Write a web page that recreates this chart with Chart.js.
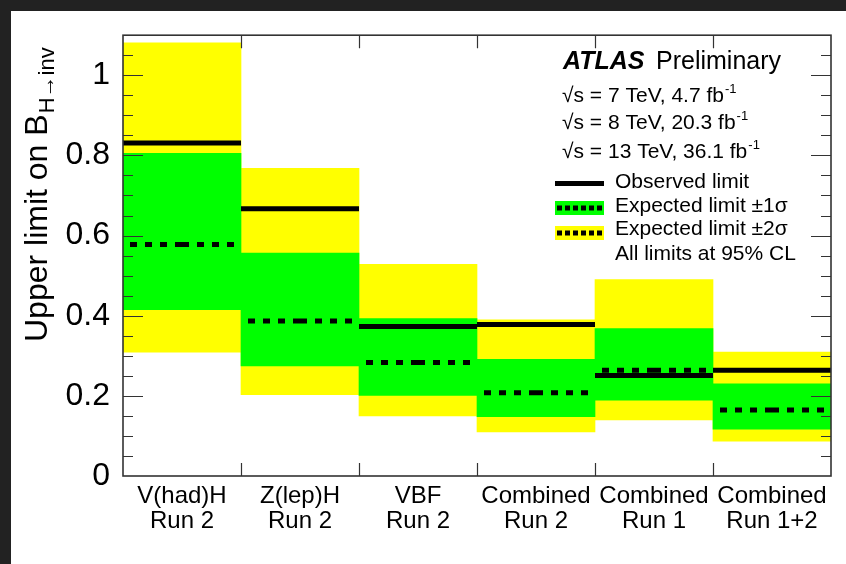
<!DOCTYPE html>
<html>
<head>
<meta charset="utf-8">
<script src="https://cdn.jsdelivr.net/npm/chart.js@4.4.1/dist/chart.umd.min.js"></script>
<style>
  html, body { margin: 0; padding: 0; background: #222; width: 846px; height: 564px; overflow: hidden; }
  #sheet { position: absolute; left: 11px; top: 11px; width: 835px; height: 553px; background: #fff; }
  canvas { display: block; }
</style>
</head>
<body>
<div id="sheet"><canvas id="limits" width="835" height="553"></canvas></div>
<script>
// channels, one bin each
const categories = [
    ['V(had)H', 'Run 2'],
    ['Z(lep)H', 'Run 2'],
    ['VBF', 'Run 2'],
    ['Combined', 'Run 2'],
    ['Combined', 'Run 1'],
    ['Combined', 'Run 1+2']
];

// upper limits on B(H -> inv) at 95% CL
const observed     = [0.831, 0.667, 0.373, 0.378, 0.251, 0.264];
const expected     = [0.578, 0.387, 0.283, 0.208, 0.264, 0.165];
const oneSigmaLow  = [0.415, 0.275, 0.201, 0.148, 0.189, 0.117];
const oneSigmaHigh = [0.805, 0.556, 0.393, 0.291, 0.368, 0.230];
const twoSigmaLow  = [0.309, 0.203, 0.150, 0.110, 0.140, 0.087];
const twoSigmaHigh = [1.081, 0.768, 0.528, 0.390, 0.490, 0.309];

const yTicks = [0, 0.2, 0.4, 0.6, 0.8, 1];
const energyLines = [
    ['7 TeV, 4.7 fb'],
    ['8 TeV, 20.3 fb'],
    ['13 TeV, 36.1 fb']
];
const legendLabels = ['Observed limit', 'Expected limit \u00b11\u03c3', 'Expected limit \u00b12\u03c3', 'All limits at 95% CL'];

const FONT = '"Liberation Sans", Arial, Helvetica, sans-serif';

// horizontal segment per bin, broken by nulls between bins
function binSegments(values) {
    let pts = [];
    for (let i = 0; i < values.length; i++) {
        pts.push({x: i, y: values[i]});
        pts.push({x: i + 1, y: values[i]});
        pts.push({x: i + 1, y: null});
    }
    return pts;
}

// same, but each bin drawn as two halves from the edges inwards so the dashes sit symmetric
function binHalves(values) {
    let pts = [];
    for (let i = 0; i < values.length; i++) {
        pts.push({x: i, y: values[i]});
        pts.push({x: i + 0.5, y: values[i]});
        pts.push({x: i + 0.5, y: null});
        pts.push({x: i + 1, y: values[i]});
        pts.push({x: i + 0.5, y: values[i]});
        pts.push({x: i + 0.5, y: null});
    }
    return pts;
}

function bandData(low, high) {
    let out = [];
    for (let i = 0; i < low.length; i++) {
        out.push([low[i], high[i]]);
    }
    return out;
}

// frame with inward ticks on all four sides
const frameTicks = {
    id: 'frameTicks',
    afterDatasetsDraw(chart) {
        const ctx = chart.ctx;
        const a = chart.chartArea;
        const y = chart.scales.y;
        const xl = chart.scales.xl;
        ctx.save();
        ctx.strokeStyle = '#333';
        ctx.lineWidth = 1.2;
        ctx.beginPath();
        for (let k = 1; k * 0.05 < y.max - 0.01; k++) {
            let py = Math.round(y.getPixelForValue(k * 0.05)) + 0.5;
            let len = (k % 4 === 0) ? 20 : 10;
            ctx.moveTo(a.left, py);
            ctx.lineTo(a.left + len, py);
            ctx.moveTo(a.right, py);
            ctx.lineTo(a.right - len, py);
        }
        for (let i = 1; i < categories.length; i++) {
            let px = Math.round(xl.getPixelForValue(i)) + 0.5;
            ctx.moveTo(px, a.bottom);
            ctx.lineTo(px, a.bottom - 13);
            ctx.moveTo(px, a.top);
            ctx.lineTo(px, a.top + 13);
        }
        ctx.stroke();
        ctx.lineWidth = 1.6;
        ctx.strokeRect(a.left, a.top, a.right - a.left, a.bottom - a.top);
        ctx.restore();
    }
};

// axis title, ATLAS label and the legend box
const annotations = {
    id: 'annotations',
    afterDraw(chart) {
        const ctx = chart.ctx;
        ctx.save();
        ctx.fillStyle = '#000';
        ctx.textBaseline = 'alphabetic';
        ctx.textAlign = 'left';

        // y title with subscript
        ctx.save();
        ctx.translate(36, 331);
        ctx.rotate(-Math.PI / 2);
        ctx.font = '32px ' + FONT;
        ctx.fillText('Upper limit on B', 0, 0);
        let w = ctx.measureText('Upper limit on B').width;
        ctx.font = '22px ' + FONT;
        ctx.fillText('H\u2192inv', w + 1, 7);
        ctx.restore();

        ctx.font = 'italic bold 25px ' + FONT;
        ctx.fillText('ATLAS', 552, 58);
        ctx.font = '25px ' + FONT;
        ctx.fillText('Preliminary', 645, 58);

        let base = [91, 118, 147];
        for (let i = 0; i < energyLines.length; i++) {
            ctx.font = '21px ' + FONT;
            let txt = '\u221as = ' + energyLines[i][0];
            ctx.fillText(txt, 551, base[i]);
            let tw = ctx.measureText(txt).width;
            ctx.font = '13px ' + FONT;
            ctx.fillText('-1', 551 + tw + 1, base[i] - 9);
        }

        // legend swatches
        const sx = 544, sw = 49;
        ctx.fillStyle = '#000';
        ctx.fillRect(sx, 170, sw, 5);
        ctx.fillStyle = '#00ff00';
        ctx.fillRect(sx, 190, sw, 14);
        ctx.fillStyle = '#ffff00';
        ctx.fillRect(sx, 215, sw, 14);
        ctx.strokeStyle = '#000';
        ctx.lineWidth = 5;
        ctx.setLineDash([5, 3]);
        ctx.beginPath();
        ctx.moveTo(sx + 2, 197);
        ctx.lineTo(sx + sw, 197);
        ctx.moveTo(sx + 2, 222);
        ctx.lineTo(sx + sw, 222);
        ctx.stroke();
        ctx.setLineDash([]);

        ctx.fillStyle = '#000';
        ctx.font = '21px ' + FONT;
        let lb = [177, 201, 224, 249];
        for (let i = 0; i < legendLabels.length; i++) {
            ctx.fillText(legendLabels[i], 604, lb[i]);
        }
        ctx.restore();
    }
};

const ctx = document.getElementById('limits').getContext('2d');
const limitChart = new Chart(ctx, {
    type: 'bar',
    data: {
        labels: categories,
        datasets: [
            {
                label: 'Expected limit \u00b12\u03c3',
                data: bandData(twoSigmaLow, twoSigmaHigh),
                backgroundColor: '#ffff00',
                borderWidth: 0,
                barPercentage: 1,
                categoryPercentage: 1,
                grouped: false,
                order: 4
            },
            {
                label: 'Expected limit \u00b11\u03c3',
                data: bandData(oneSigmaLow, oneSigmaHigh),
                backgroundColor: '#00ff00',
                borderWidth: 0,
                barPercentage: 1,
                categoryPercentage: 1,
                grouped: false,
                order: 3
            },
            {
                type: 'line',
                label: 'Expected limit',
                xAxisID: 'xl',
                data: binHalves(expected),
                borderColor: '#000',
                borderWidth: 5,
                borderDash: [7, 8],
                borderDashOffset: 8,
                borderCapStyle: 'butt',
                pointRadius: 0,
                spanGaps: false,
                order: 2
            },
            {
                type: 'line',
                label: 'Observed limit',
                xAxisID: 'xl',
                data: binSegments(observed),
                borderColor: '#000',
                borderWidth: 5,
                borderCapStyle: 'butt',
                pointRadius: 0,
                spanGaps: false,
                order: 1
            }
        ]
    },
    options: {
        responsive: false,
        animation: false,
        layout: { padding: { top: 16, right: 15, left: 0, bottom: 0 } },
        plugins: {
            legend: { display: false },
            tooltip: { enabled: false }
        },
        scales: {
            x: {
                type: 'category',
                grid: { display: false },
                border: { display: false },
                ticks: {
                    color: '#000',
                    font: { family: FONT, size: 24, lineHeight: 1.05 },
                    padding: 0,
                    maxRotation: 0,
                    autoSkip: false
                },
                afterFit: function(scale) { scale.height = 88; }
            },
            xl: {
                type: 'linear',
                display: false,
                offset: false,
                bounds: 'ticks',
                min: 0,
                max: categories.length
            },
            y: {
                min: 0,
                max: 1.1,
                grid: { display: false },
                border: { display: false },
                afterBuildTicks: function(scale) {
                    scale.ticks = yTicks.map(function(v) { return {value: v}; });
                },
                ticks: {
                    color: '#000',
                    font: { family: FONT, size: 32 },
                    padding: 5,
                    callback: function(value) { return String(Number(value.toFixed(1))); }
                },
                afterFit: function(scale) { scale.width = 112; }
            }
        }
    },
    plugins: [frameTicks, annotations]
});
</script>
</body>
</html>
